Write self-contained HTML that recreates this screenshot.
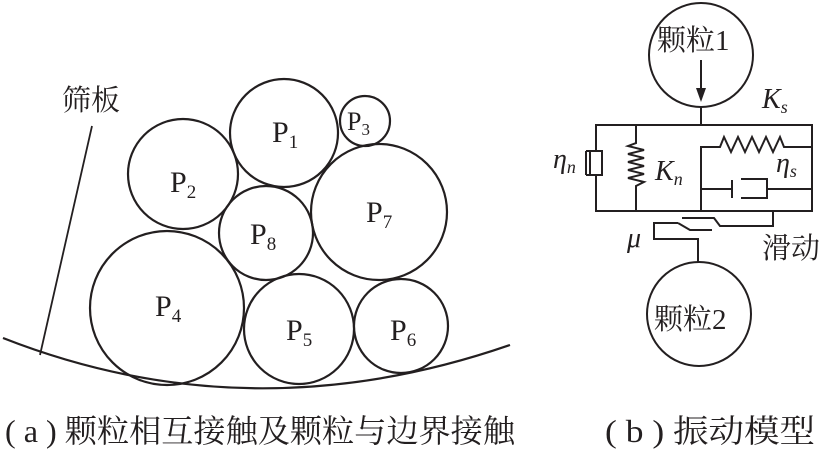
<!DOCTYPE html>
<html><head><meta charset="utf-8"><style>
html,body{margin:0;padding:0;background:#fff;}
svg{display:block;}
text{font-family:"Liberation Serif","Noto Serif CJK SC",serif;fill:#231f20;}
</style></head><body>
<svg width="828" height="453" viewBox="0 0 828 453" xmlns="http://www.w3.org/2000/svg">
<g fill="none" stroke="#231f20" stroke-width="2.2">
<circle cx="284" cy="133" r="54"/>
<circle cx="365" cy="121" r="25"/>
<circle cx="183" cy="174" r="55"/>
<circle cx="266" cy="233" r="47"/>
<circle cx="379" cy="212" r="68"/>
<circle cx="167" cy="308" r="77"/>
<circle cx="299" cy="329" r="55"/>
<circle cx="401" cy="326" r="47"/>
<path d="M3,338 Q250,435 510,345"/>
<line x1="92" y1="126" x2="40" y2="355" stroke-width="1.8"/>
</g>
<g font-size="30">
<text x="272" y="142">P<tspan font-size="19" dy="6">1</tspan></text>
<text x="347" y="130" font-size="26">P<tspan font-size="17" dy="5">3</tspan></text>
<text x="170" y="192">P<tspan font-size="19" dy="6">2</tspan></text>
<text x="250" y="244">P<tspan font-size="19" dy="6">8</tspan></text>
<text x="366" y="222">P<tspan font-size="19" dy="6">7</tspan></text>
<text x="155" y="316">P<tspan font-size="19" dy="6">4</tspan></text>
<text x="286" y="340">P<tspan font-size="19" dy="6">5</tspan></text>
<text x="390" y="340">P<tspan font-size="19" dy="6">6</tspan></text>
</g>
<text x="62" y="110" font-size="29" font-family="Noto Serif CJK SC,serif">筛板</text>

<g fill="none" stroke="#231f20" stroke-width="2">
<circle cx="701" cy="55" r="52"/>
<circle cx="699" cy="314" r="52"/>
<line x1="701" y1="60" x2="701" y2="90"/>
<line x1="701" y1="107" x2="701" y2="125"/>
<rect x="596" y="125" width="216" height="86"/>
<rect x="590" y="151" width="12" height="24" fill="#fff"/>
<line x1="586" y1="151" x2="590" y2="151"/><line x1="586" y1="151" x2="586" y2="175"/><line x1="586" y1="175" x2="590" y2="175"/>
<path d="M636,125 V143 L628,146 L644,150 L628,154 L644,158 L628,162 L644,166 L628,170 L644,174 L628,178 L644,182 L636,186 V211"/>
<path d="M701,211 V147 H720 L724,137 L731,152 L738,137 L745,152 L752,137 L759,152 L766,137 L773,152 L780,137 L784,147 H812"/>
<line x1="701" y1="189" x2="732" y2="189"/>
<line x1="732" y1="180" x2="732" y2="198"/>
<path d="M741,179 H767 V198 H741"/>
<line x1="767" y1="189" x2="812" y2="189"/>
<path d="M773,211 V226 H720 L714,218 H682"/>
<path d="M678,223 H654 V239 H698 V262"/>
<path d="M678,223 L690,230 H712"/>
</g>
<polygon points="696,88 706,88 701,102" fill="#231f20"/>
<g font-size="29" font-family="Noto Serif CJK SC,serif">
<text x="657" y="50">颗粒1</text>
<text x="654" y="329">颗粒2</text>
<text x="762" y="258">滑动</text>
</g>
<g font-style="italic">
<text x="762" y="108" font-size="28">K<tspan font-size="18" dy="5">s</tspan></text>
<text x="655" y="180" font-size="28">K<tspan font-size="18" dy="5">n</tspan></text>
<text x="553" y="168" font-size="28">η<tspan font-size="18" dy="5">n</tspan></text>
<text x="776" y="172" font-size="28">η<tspan font-size="18" dy="5">s</tspan></text>
<text x="627" y="247" font-size="28">μ</text>
</g>
<g font-size="32" font-family="Noto Serif CJK SC,serif">
<text x="5" y="442" textLength="510" lengthAdjust="spacingAndGlyphs">( a ) 颗粒相互接触及颗粒与边界接触</text>
<text x="605" y="442" textLength="210" lengthAdjust="spacingAndGlyphs">( b ) 振动模型</text>
</g>
</svg>
</body></html>
